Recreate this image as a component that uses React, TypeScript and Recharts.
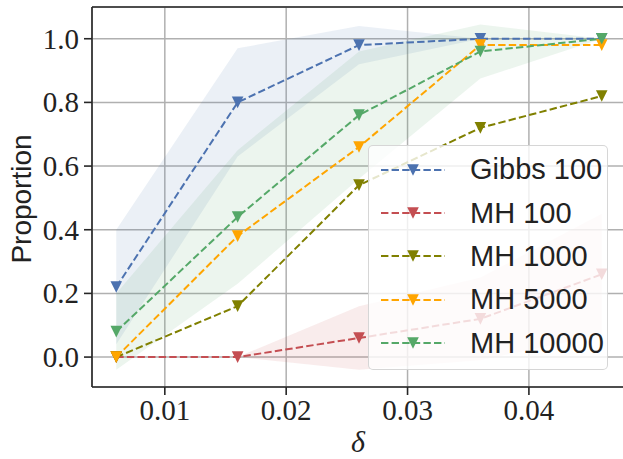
import {
  ComposedChart,
  Line,
  Area,
  XAxis,
  YAxis,
  CartesianGrid,
  ReferenceLine,
} from "recharts";

const deltas = [0.006, 0.016, 0.026, 0.036, 0.046];
const xTicks = [0.01, 0.02, 0.03, 0.04];
const yTicks = [0, 0.2, 0.4, 0.6, 0.8, 1.0];

const gibbs100 = [0.22, 0.8, 0.98, 1.0, 1.0];
const mh100 = [0.0, 0.0, 0.06, 0.12, 0.26];
const mh1000 = [0.0, 0.16, 0.54, 0.72, 0.82];
const mh5000 = [0.0, 0.38, 0.66, 0.98, 0.98];
const mh10000 = [0.08, 0.44, 0.76, 0.96, 1.0];

// shaded spread (low / high) for three of the runs
const gibbs100Low = [0.04, 0.63, 0.92, 1.0, 1.0];
const gibbs100High = [0.4, 0.97, 1.04, 1.0, 1.0];
const mh100Low = [0.0, 0.0, -0.04, -0.01, 0.07];
const mh100High = [0.0, 0.0, 0.16, 0.25, 0.45];
const mh10000Low = [-0.04, 0.23, 0.56, 0.875, 1.0];
const mh10000High = [0.2, 0.65, 0.96, 1.045, 1.0];

const series = [
  { key: "gibbs100", name: "Gibbs 100", color: "#4C72B0", values: gibbs100 },
  { key: "mh100", name: "MH 100", color: "#C44E52", values: mh100 },
  { key: "mh1000", name: "MH 1000", color: "#808000", values: mh1000 },
  { key: "mh5000", name: "MH 5000", color: "#FFA500", values: mh5000 },
  { key: "mh10000", name: "MH 10000", color: "#55A868", values: mh10000 },
];

const bands = [
  { key: "gibbs100Band", color: "#4C72B0", low: gibbs100Low, high: gibbs100High },
  { key: "mh100Band", color: "#C44E52", low: mh100Low, high: mh100High },
  { key: "mh10000Band", color: "#55A868", low: mh10000Low, high: mh10000High },
];

const data = deltas.map((x, i) => {
  const row: any = { x };
  series.forEach((s) => (row[s.key] = s.values[i]));
  bands.forEach((b) => (row[b.key] = [b.low[i], b.high[i]]));
  return row;
});

const SPINE = "#262626";
const serif = "'Liberation Serif', 'Times New Roman', serif";
const sans = "'Liberation Sans', Arial, sans-serif";

const TriDown = ({ cx, cy, fill, r = 5.8 }: any) => {
  if (cx == null || cy == null) return null;
  return (
    <path
      d={`M${cx - r},${cy - r}L${cx + r},${cy - r}L${cx},${cy + r}Z`}
      fill={fill}
    />
  );
};

const XTick = ({ x, y, payload }: any) => (
  <text
    x={x}
    y={y + 25}
    textAnchor="middle"
    fontFamily={serif}
    fontSize={29}
    fill="#222"
  >
    {Number(payload.value).toFixed(2)}
  </text>
);

const YTick = ({ x, y, payload }: any) => (
  <text
    x={x}
    y={y}
    dy={10}
    textAnchor="end"
    fontFamily={serif}
    fontSize={29}
    fill="#222"
  >
    {Number(payload.value).toFixed(1)}
  </text>
);

const XLabel = ({ viewBox }: any) => (
  <text
    x={viewBox.x + viewBox.width / 2 - 1}
    y={viewBox.y + 65}
    textAnchor="middle"
    fontFamily={serif}
    fontStyle="italic"
    fontSize={30}
    fill="#222"
  >
    δ
  </text>
);

const YLabel = ({ viewBox }: any) => {
  const cx = 21;
  const cy = viewBox.y + viewBox.height / 2 + 2;
  return (
    <text
      x={cx}
      y={cy}
      transform={`rotate(-90, ${cx}, ${cy})`}
      textAnchor="middle"
      dominantBaseline="central"
      fontFamily={sans}
      fontSize={28}
      fill="#222"
    >
      Proportion
    </text>
  );
};

const LegendBox = () => (
  <div
    style={{
      position: "absolute",
      left: 368,
      top: 145,
      width: 240,
      height: 225,
      background: "rgba(255,255,255,0.8)",
      border: "1px solid rgba(204,204,204,0.8)",
      borderRadius: 5,
      boxSizing: "border-box",
      paddingTop: 2,
    }}
  >
    {series.map((s) => (
      <div
        key={s.key}
        style={{ height: 43.4, display: "flex", alignItems: "center" }}
      >
        <svg width={64} height={20} style={{ marginLeft: 12, flexShrink: 0 }}>
          <line
            x1={0}
            y1={10}
            x2={64}
            y2={10}
            stroke={s.color}
            strokeWidth={2}
            strokeDasharray="7.4 3.2"
          />
          <TriDown cx={32} cy={10} fill={s.color} />
        </svg>
        <span
          style={{
            marginLeft: 25,
            fontFamily: sans,
            fontSize: 29,
            color: "#222",
            whiteSpace: "nowrap",
          }}
        >
          {s.name}
        </span>
      </div>
    ))}
  </div>
);

export default function App() {
  return (
    <div
      style={{
        position: "absolute",
        left: 0,
        top: 0,
        width: 623,
        height: 459,
        overflow: "hidden",
        background: "#fff",
      }}
    >
      <ComposedChart
        width={626}
        height={459}
        data={data}
        margin={{ top: 7, right: 0, bottom: 0, left: 0 }}
      >
        <CartesianGrid stroke="#b0b0b0" strokeWidth={1.5} />
        <XAxis
          type="number"
          dataKey="x"
          domain={[0.004, 0.048]}
          ticks={xTicks}
          allowDataOverflow
          height={72}
          tickSize={8}
          tickMargin={0}
          tick={(p: any) => <XTick {...p} />}
          axisLine={{ stroke: SPINE, strokeWidth: 1.6 }}
          tickLine={{ stroke: SPINE, strokeWidth: 1.6 }}
          label={<XLabel />}
        />
        <YAxis
          type="number"
          domain={[-0.094, 1.0997]}
          ticks={yTicks}
          allowDataOverflow
          width={92}
          tickSize={8}
          tickMargin={5}
          tick={(p: any) => <YTick {...p} />}
          axisLine={{ stroke: SPINE, strokeWidth: 1.6 }}
          tickLine={{ stroke: SPINE, strokeWidth: 1.6 }}
          label={<YLabel />}
        />
        <ReferenceLine y={1.0997} stroke={SPINE} strokeWidth={1.6} />
        {bands.map((b) => (
          <Area
            key={b.key}
            dataKey={b.key}
            type="linear"
            stroke="none"
            fill={b.color}
            fillOpacity={0.11}
            isAnimationActive={false}
            activeDot={false}
            legendType="none"
          />
        ))}
        {series.map((s) => (
          <Line
            key={s.key}
            dataKey={s.key}
            name={s.name}
            type="linear"
            stroke={s.color}
            strokeWidth={2}
            strokeDasharray="7.4 3.2"
            dot={(p: any) => (
              <TriDown key={`${s.key}-${p.index}`} cx={p.cx} cy={p.cy} fill={s.color} />
            )}
            activeDot={false}
            isAnimationActive={false}
          />
        ))}
      </ComposedChart>
      <LegendBox />
    </div>
  );
}
